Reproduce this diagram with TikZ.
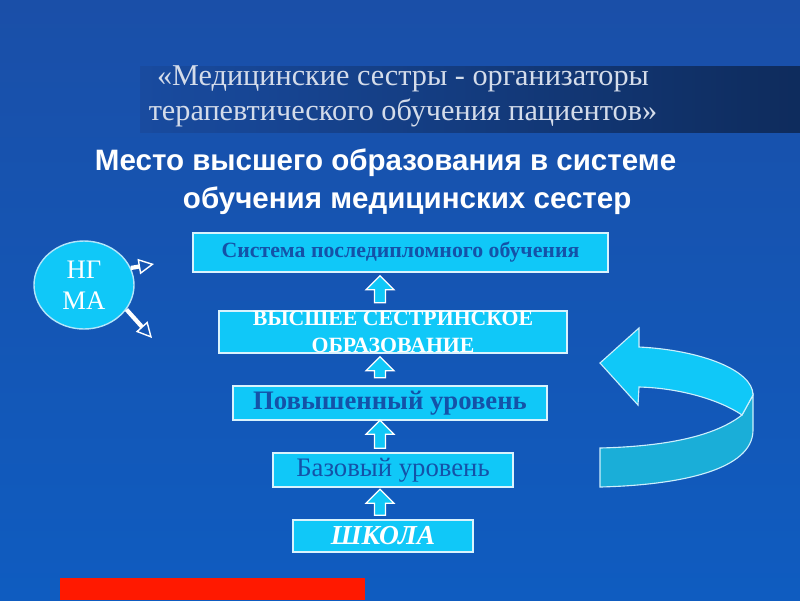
\documentclass[tikz,border=0pt]{standalone}
\usepackage{fontspec}
\setmainfont{Liberation Serif}
\setsansfont{Liberation Sans}
\usetikzlibrary{shapes.arrows,shapes.geometric,arrows.meta}
\definecolor{bgtop}{HTML}{1A4FA8}
\definecolor{bgbot}{HTML}{0F5CC0}
\definecolor{boxcyan}{HTML}{10C8F8}
\definecolor{bandcyan}{HTML}{1AAED8}
\definecolor{textblue}{HTML}{1452A8}
\definecolor{titlegray}{HTML}{D4DCEA}
\newlength{\pxu}\setlength{\pxu}{0.025cm}
\tikzset{
  levelbox/.style={draw=white!85!cyan,line width=1.2pt,fill=boxcyan,inner sep=0pt},
  uparrow/.style={single arrow,shape border rotate=90,draw=white,line width=0.8pt,
    fill=boxcyan,minimum width=28\pxu,single arrow head extend=4\pxu,
    minimum height=25\pxu,inner sep=2\pxu},
  outarrow/.style={draw=white,line width=3pt,-{Triangle[open,length=11pt,width=11pt,line width=1pt]}}
}
\begin{document}
\begin{tikzpicture}[x=0.025cm,y=-0.025cm]
  % background
  \shade[top color=bgtop,bottom color=bgbot] (0,0) rectangle (800,600);
  \useasboundingbox (0,0) rectangle (800,600);
  \shade[left color=bgtop!95!black,right color=bgtop!55!black] (140,66) rectangle (800,132);
  \fill[red!80!orange] (60,578) rectangle (365,600);

  % titles
  \node[text=titlegray,font=\fontsize{21.5}{25}\selectfont,align=center] (title) at (403,96)
    {«Медицинские сестры - организаторы\\терапевтического обучения пациентов»};
  \node[text=white,font=\sffamily\bfseries\fontsize{21}{26}\selectfont,anchor=west] (sub1) at (90,163)
    {Место высшего образования в системе};
  \node[text=white,font=\sffamily\bfseries\fontsize{21}{26}\selectfont,anchor=west] (sub2) at (178,201)
    {обучения медицинских сестер};

  % levels
  \node[levelbox,minimum width=415\pxu,minimum height=39\pxu,text=textblue,
    font=\bfseries\fontsize{15.5}{18}\selectfont] (post) at (400.5,252.5) {Система последипломного обучения};
  \node[levelbox,minimum width=348\pxu,minimum height=40\pxu,text=white,align=center,
    font=\bfseries\fontsize{15.5}{19}\selectfont] (high) at (393,332) {ВЫСШЕЕ СЕСТРИНСКОЕ\\ОБРАЗОВАНИЕ};
  \node[levelbox,minimum width=314\pxu,minimum height=34\pxu,text=textblue,
    font=\bfseries\fontsize{19}{22}\selectfont] (adv) at (390,403) {Повышенный уровень};
  \node[levelbox,minimum width=240\pxu,minimum height=34\pxu,text=textblue,
    font=\fontsize{19}{22}\selectfont] (base) at (393,470) {Базовый уровень};
  \node[levelbox,minimum width=180\pxu,minimum height=32\pxu,text=white,
    font=\bfseries\itshape\fontsize{19.5}{22}\selectfont] (school) at (383,536) {ШКОЛА};

  % arrows between levels
  \node[uparrow,minimum height=27\pxu] (a1) at (380,292) {};
  \node[uparrow,minimum height=21\pxu] (a2) at (380,370) {};
  \node[uparrow,minimum height=28\pxu] (a3) at (380,437) {};
  \node[uparrow,minimum height=26\pxu] (a4) at (380,505) {};

  % academy
  \node[ellipse,draw=white!70!cyan,line width=1pt,fill=boxcyan,minimum width=100\pxu,
    minimum height=88\pxu,text=white,align=center,font=\fontsize{19}{22}\selectfont]
    (ngma) at (84,285) {НГ\\МА};
  \coordinate (up) at (154,264);
  \coordinate (down) at (152,338);
  \draw[outarrow] (ngma.20) -- (up);
  \draw[outarrow] (ngma.-30) -- (down);

  % curved return arrow
  \filldraw[fill=bandcyan,draw=white!80!cyan,line width=0.8pt]
    (742,415) -- (753,395) -- (753,430) .. controls (753,470) and (680,485) .. (600,487)
    -- (600,448) .. controls (680,446) and (720,432) .. (742,415) -- cycle;
  \filldraw[fill=boxcyan,draw=white!80!cyan,line width=0.8pt]
    (600,363) -- (639,328) -- (639,347) .. controls (700,350) and (753,370) .. (753,395)
    -- (742,415) .. controls (720,400) and (680,388) .. (639,387) -- (638,405) -- cycle;
\end{tikzpicture}
\end{document}
